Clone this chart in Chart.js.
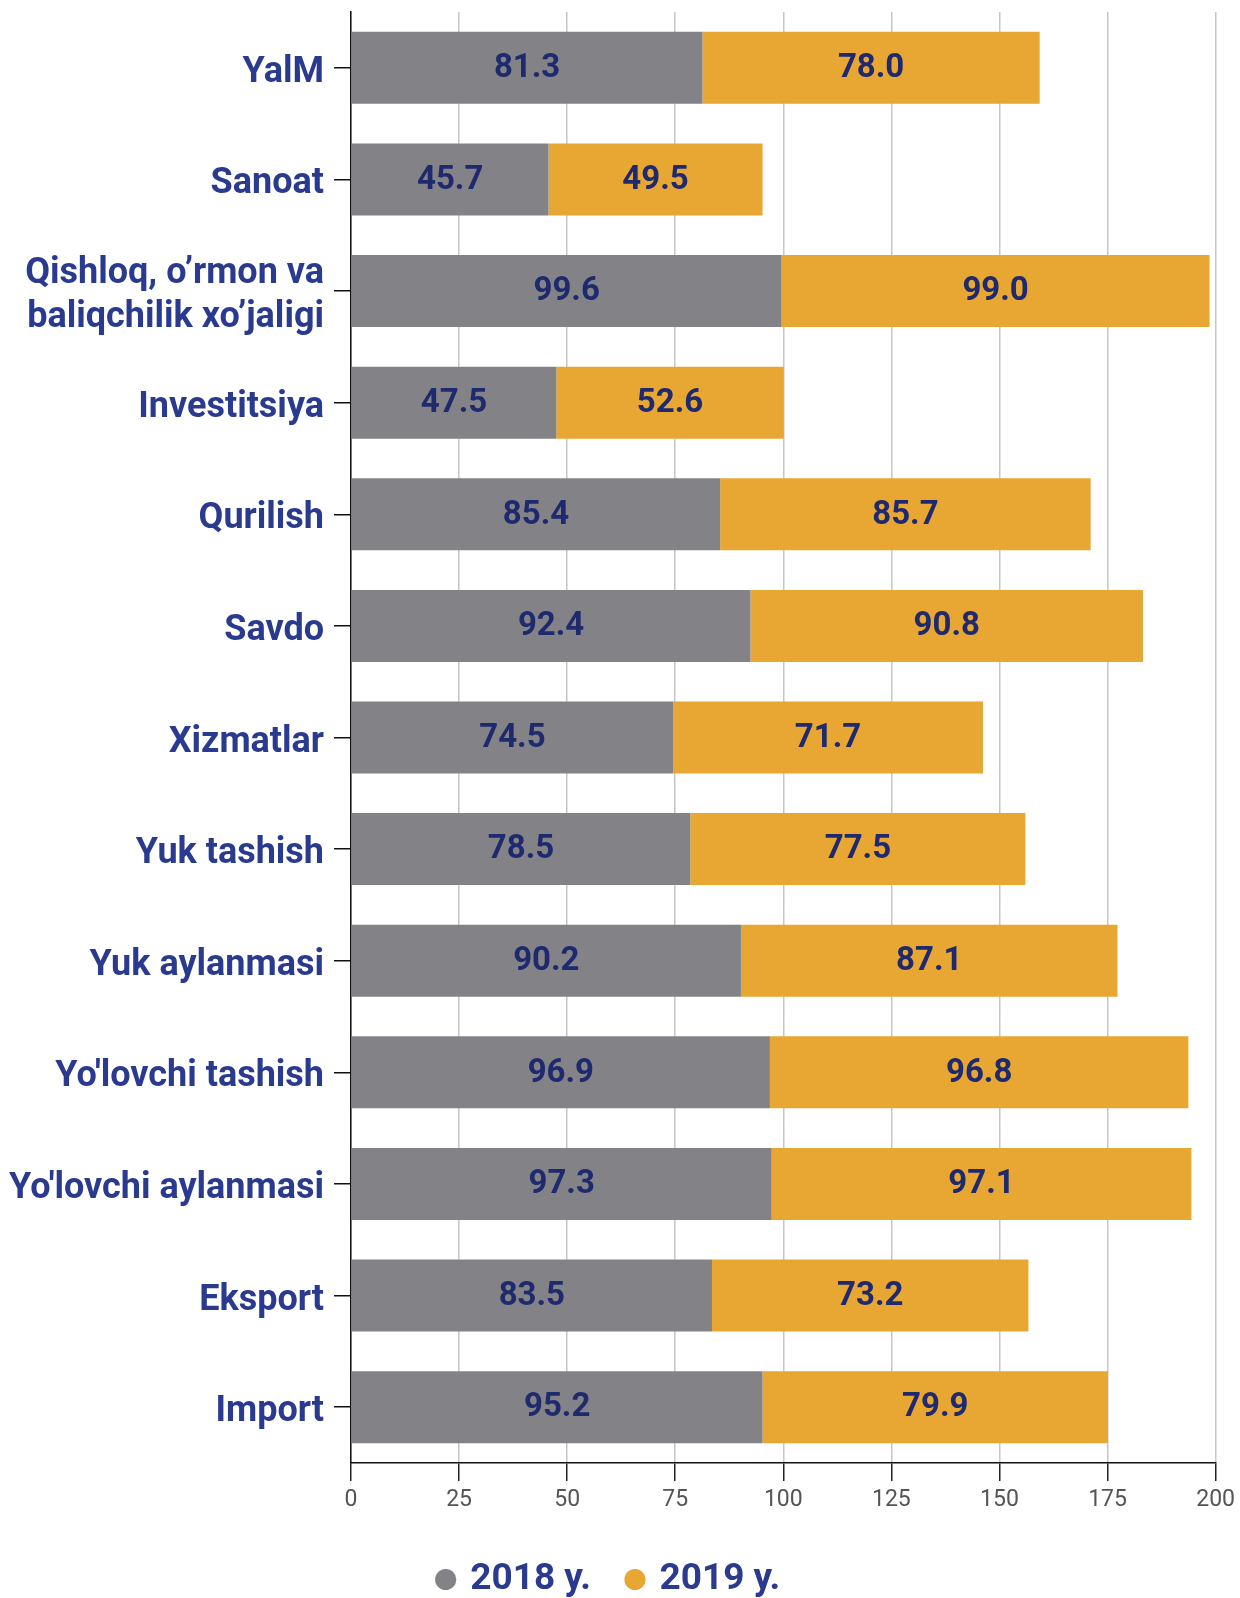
<!DOCTYPE html>
<html>
<head>
<meta charset="utf-8">
<script src="https://cdn.jsdelivr.net/npm/chart.js@4.4.1/dist/chart.umd.min.js"></script>
<style>
  body { margin: 0; background: #fff; }
  #wrap { width: 1240px; height: 1598px; }
</style>
</head>
<body>
<div id="wrap"><canvas id="myChart" width="1240" height="1598"></canvas></div>
<script>
var categories = [
  "YalM",
  "Sanoat",
  ["Qishloq, o\u2019rmon va", "baliqchilik xo\u2019jaligi"],
  "Investitsiya",
  "Qurilish",
  "Savdo",
  "Xizmatlar",
  "Yuk tashish",
  "Yuk aylanmasi",
  "Yo'lovchi tashish",
  "Yo'lovchi aylanmasi",
  "Eksport",
  "Import"
];
var seriesNames = ["2018 y.", "2019 y."];
var values2018 = [81.3, 45.7, 99.6, 47.5, 85.4, 92.4, 74.5, 78.5, 90.2, 96.9, 97.3, 83.5, 95.2];
var values2019 = [78.0, 49.5, 99.0, 52.6, 85.7, 90.8, 71.7, 77.5, 87.1, 96.8, 97.1, 73.2, 79.9];
var xTicks = [0, 25, 50, 75, 100, 125, 150, 175, 200];

var navy = "#2a3a8e";

// writes the value in the middle of every bar piece
var barValues = {
  id: "barValues",
  afterDatasetsDraw: function(chart) {
    var ctx = chart.ctx;
    ctx.save();
    ctx.font = "bold 33px Roboto";
    ctx.fillStyle = "#1f2a6e";
    ctx.textAlign = "center";
    ctx.textBaseline = "middle";
    chart.data.datasets.forEach(function(ds, i) {
      chart.getDatasetMeta(i).data.forEach(function(bar, j) {
        var p = bar.getCenterPoint();
        ctx.fillText(ds.data[j].toFixed(1), p.x, p.y + 1);
      });
    });
    ctx.restore();
  }
};

var ctx = document.getElementById("myChart");
var chart = new Chart(ctx, {
  type: "bar",
  data: {
    labels: categories,
    datasets: [
      {
        label: seriesNames[0],
        data: values2018,
        backgroundColor: "#838387",
        barPercentage: 0.645,
        categoryPercentage: 1
      },
      {
        label: seriesNames[1],
        data: values2019,
        backgroundColor: "#e8a632",
        barPercentage: 0.645,
        categoryPercentage: 1
      }
    ]
  },
  options: {
    indexAxis: "y",
    responsive: false,
    animation: false,
    devicePixelRatio: 1,
    layout: { padding: { top: 12, right: 20, left: 0, bottom: -10 } },
    scales: {
      x: {
        stacked: true,
        min: 0,
        max: 200,
        afterBuildTicks: function(scale) {
          scale.ticks = xTicks.map(function(v) { return { value: v }; });
        },
        afterFit: function(scale) { scale.height = 60; },
        grid: {
          color: "#c6c6c6",
          lineWidth: 1.5,
          tickLength: 18,
          tickColor: "#222"
        },
        border: { color: "#111", width: 1.5 },
        ticks: {
          color: "#555",
          padding: 5,
          font: { family: "Roboto", size: 23 }
        }
      },
      y: {
        stacked: true,
        afterFit: function(scale) {
          scale.width = 351;
          scale.paddingTop = 0;
          scale.paddingBottom = 0;
        },
        grid: {
          offset: false,
          drawOnChartArea: false,
          tickLength: 17,
          tickColor: "#111",
          lineWidth: 1.5
        },
        border: { color: "#111", width: 1.5 },
        ticks: {
          color: navy,
          padding: 10,
          labelOffset: 5,
          font: { family: "Roboto", size: 36, weight: "bold", lineHeight: 1.2 }
        }
      }
    },
    plugins: {
      tooltip: { enabled: false },
      legend: {
        position: "bottom",
        labels: {
          usePointStyle: true,
          pointStyle: "circle",
          boxWidth: 12,
          boxHeight: 15,
          padding: 38,
          color: navy,
          font: { family: "Roboto", size: 37, weight: "bold" }
        }
      }
    }
  },
  plugins: [barValues]
});
</script>
</body>
</html>
